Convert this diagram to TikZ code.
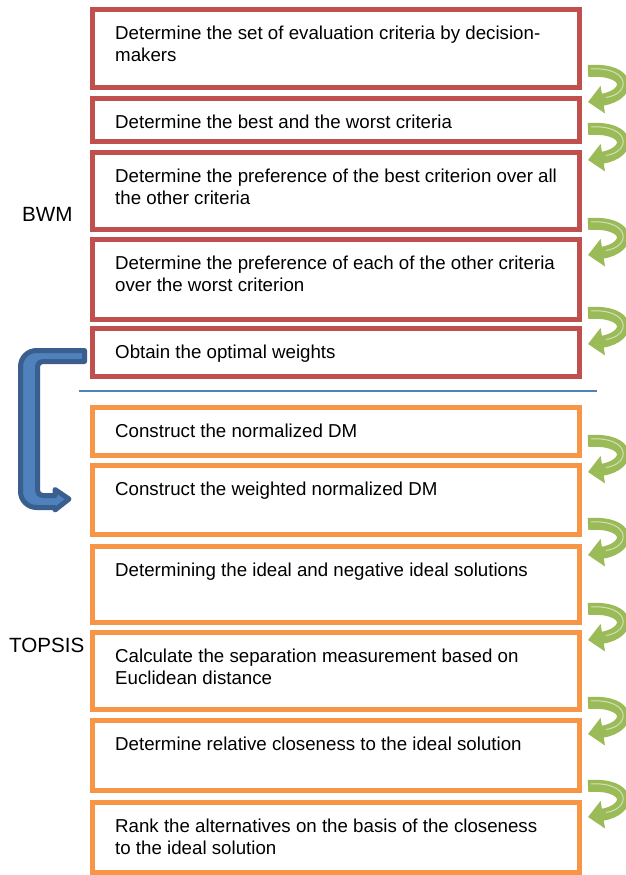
\documentclass[tikz,border=0pt]{standalone}
\usepackage{fontspec}
\setmainfont{Liberation Sans}
\usetikzlibrary{arrows.meta,calc}

\definecolor{boxred}{HTML}{C0504D}
\definecolor{boxorange}{HTML}{F79646}
\definecolor{arrowgreen}{HTML}{9BBB59}
\definecolor{bracketblue}{HTML}{4F81BD}
\definecolor{bracketedge}{HTML}{3A5F8E}
\definecolor{rulerblue}{HTML}{4F81BD}

\begin{document}
\begin{tikzpicture}[x=1pt,y=-1pt,
  stepbox/.style={draw, line width=5pt, minimum width=487pt, inner sep=0pt,
    outer sep=0pt, anchor=north west},
  bwmbox/.style={stepbox, draw=boxred},
  topbox/.style={stepbox, draw=boxorange},
  steptext/.style={anchor=base west, inner sep=0pt, align=left,
    font=\fontsize{18.7}{22.5}\selectfont},
  phase/.style={anchor=base west, inner sep=0pt, font=\fontsize{20.6}{24}\selectfont},
  greenturn/.pic={
    \draw[arrowgreen, line width=12pt, -{Triangle[length=15pt,width=27pt]}]
      (0,6) .. controls (44,3) and (44,30) .. (0,37);
    \draw[white, opacity=.55, line width=1pt, shorten >=18pt, shorten <=3pt]
      (0,4) .. controls (43,2) and (43,29) .. (0,35);
  },
]
\useasboundingbox (0,0) rectangle (626,875);

% BWM steps
\node[bwmbox, minimum height=78pt] (b1) at (92.5,9.5) {};
\node[bwmbox, minimum height=43pt] (b2) at (92.5,98) {};
\node[bwmbox, minimum height=77pt] (b3) at (92.5,152) {};
\node[bwmbox, minimum height=80pt] (b4) at (92.5,239) {};
\node[bwmbox, minimum height=48pt] (b5) at (92.5,328) {};

% TOPSIS steps
\node[topbox, minimum height=48pt] (b6) at (92.5,407) {};
\node[topbox, minimum height=69pt] (b7) at (92.5,465) {};
\node[topbox, minimum height=76pt] (b8) at (92.5,546) {};
\node[topbox, minimum height=77pt] (b9) at (92.5,632) {};
\node[topbox, minimum height=70pt] (b10) at (92.5,720) {};
\node[topbox, minimum height=70pt] (b11) at (92.5,802) {};

% step texts (two-line texts are anchored on the baseline of their last line)
\node[steptext] (t1) at ($(b1.north west)+(22.5,52.5)$) {Determine the set of evaluation criteria by decision-\\makers};
\node[steptext] (t2) at ($(b2.north west)+(22.5,30)$) {Determine the best and the worst criteria};
\node[steptext] (t3) at ($(b3.north west)+(22.5,52.5)$) {Determine the preference of the best criterion over all\\the other criteria};
\node[steptext] (t4) at ($(b4.north west)+(22.5,52.5)$) {Determine the preference of each of the other criteria\\over the worst criterion};
\node[steptext] (t5) at ($(b5.north west)+(22.5,30)$) {Obtain the optimal weights};
\node[steptext] (t6) at ($(b6.north west)+(22.5,30)$) {Construct the normalized DM};
\node[steptext] (t7) at ($(b7.north west)+(22.5,30)$) {Construct the weighted normalized DM};
\node[steptext] (t8) at ($(b8.north west)+(22.5,30)$) {Determining the ideal and negative ideal solutions};
\node[steptext] (t9) at ($(b9.north west)+(22.5,52.5)$) {Calculate the separation measurement based on\\Euclidean distance};
\node[steptext] (t10) at ($(b10.north west)+(22.5,30)$) {Determine relative closeness to the ideal solution};
\node[steptext] (t11) at ($(b11.north west)+(22.5,52.5)$) {Rank the alternatives on the basis of the closeness\\to the ideal solution};

% phase labels
\node[phase] (bwm) at (22,221) {BWM};
\node[phase] (topsis) at (9,652) {TOPSIS};

% separator between the two phases
\coordinate (sepl) at (79,391);
\coordinate (sepr) at (597,391);
\draw[rulerblue, line width=2pt] (sepl) -- (sepr);

% green turn arrows between consecutive steps
\pic at ($(b1.south east)+(8.5,-22.5)$) {greenturn};
\pic at ($(b2.south east)+(8.5,-18)$) {greenturn};
\pic at ($(b3.south east)+(8.5,-11)$) {greenturn};
\pic at ($(b4.south east)+(8.5,-12)$) {greenturn};
\pic at ($(b6.south east)+(8.5,-20)$) {greenturn};
\pic at ($(b7.south east)+(8.5,-16)$) {greenturn};
\pic at ($(b8.south east)+(8.5,-19)$) {greenturn};
\pic at ($(b9.south east)+(8.5,-12)$) {greenturn};
\pic at ($(b10.south east)+(8.5,-10)$) {greenturn};

% weights handed over from BWM to TOPSIS
\draw[bracketedge, fill=bracketblue, line width=5pt, line join=round]
  ($(b5.west)+(-8,-1.5)$)
  [rounded corners=16pt] -- ($(b5.west)+(-72,-1.5)$)
  -- ($(b7.west)+(-72,8)$)
  [sharp corners] -- ($(b7.west)+(-37.5,8)$)
  -- ($(b7.west)+(-37.5,10.5)$)
  -- ($(b7.west)+(-23.5,-0.5)$)
  -- ($(b7.west)+(-37.5,-10)$)
  -- ($(b7.west)+(-37.5,-4)$)
  [rounded corners=5pt] -- ($(b7.west)+(-55,-4)$)
  -- ($(b5.west)+(-55,9.5)$)
  [sharp corners] -- ($(b5.west)+(-8,9.5)$)
  -- cycle;
\end{tikzpicture}
\end{document}
